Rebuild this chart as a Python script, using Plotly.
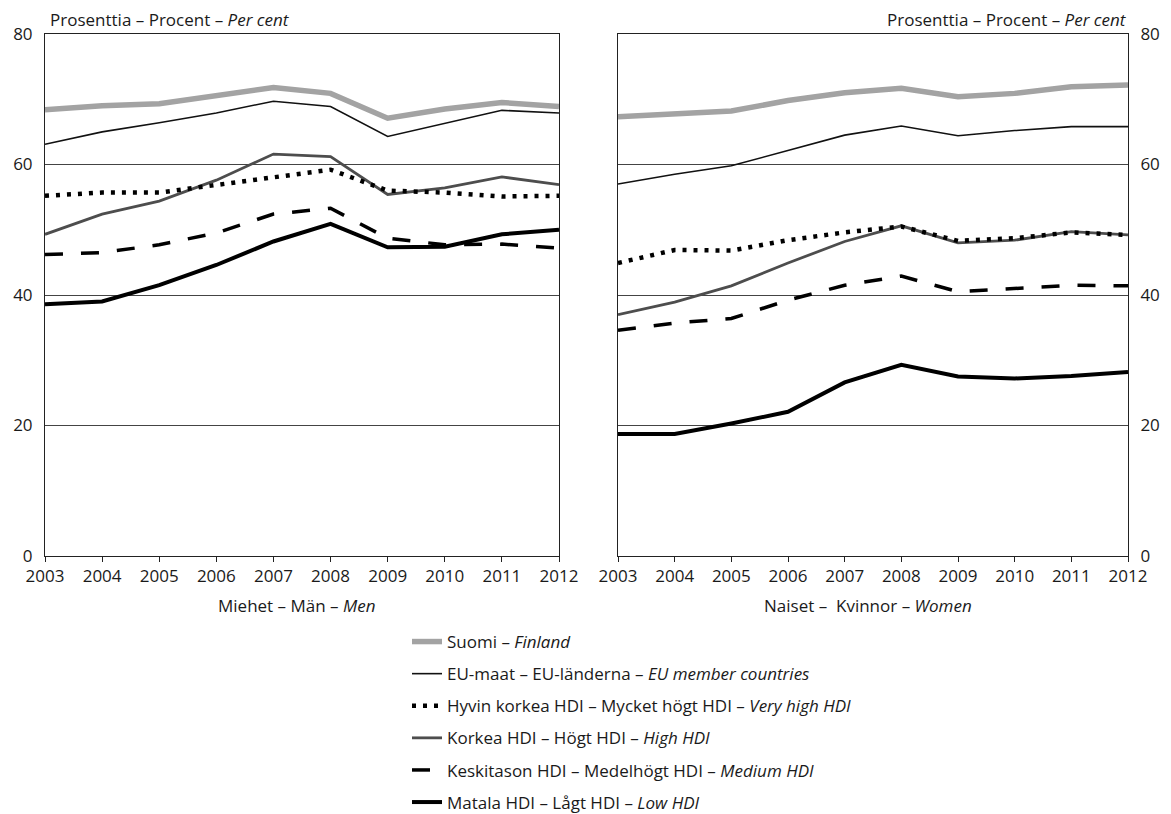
import plotly.graph_objects as go

years = [2003, 2004, 2005, 2006, 2007, 2008, 2009, 2010, 2011, 2012]

# Men (left panel)
men_finland = [68.4, 69.0, 69.3, 70.5, 71.8, 70.9, 67.1, 68.5, 69.5, 68.9]
men_eu = [63.1, 65.0, 66.4, 67.9, 69.7, 68.9, 64.3, 66.3, 68.3, 67.9]
men_very_high = [55.2, 55.7, 55.7, 56.9, 58.1, 59.2, 56.0, 55.7, 55.1, 55.2]
men_high = [49.3, 52.4, 54.4, 57.6, 61.6, 61.2, 55.4, 56.4, 58.1, 56.9]
men_medium = [46.2, 46.5, 47.7, 49.5, 52.4, 53.3, 48.7, 47.7, 47.8, 47.2]
men_low = [38.6, 39.0, 41.5, 44.6, 48.2, 50.9, 47.3, 47.4, 49.3, 50.0]

# Women (right panel)
women_finland = [67.3, 67.8, 68.2, 69.8, 71.0, 71.7, 70.4, 70.9, 71.9, 72.2]
women_eu = [57.0, 58.5, 59.8, 62.2, 64.5, 65.9, 64.4, 65.2, 65.8, 65.8]
women_very_high = [44.9, 46.9, 46.8, 48.4, 49.6, 50.5, 48.3, 48.7, 49.6, 49.2]
women_high = [37.0, 38.9, 41.4, 44.9, 48.2, 50.6, 48.0, 48.4, 49.7, 49.2]
women_medium = [34.6, 35.7, 36.4, 39.2, 41.5, 42.9, 40.5, 41.0, 41.5, 41.4]
women_low = [18.7, 18.7, 20.3, 22.1, 26.6, 29.3, 27.5, 27.2, 27.6, 28.2]

series_names = [
    "Suomi – <i>Finland</i>",
    "EU-maat – EU-länderna – <i>EU member countries</i>",
    "Hyvin korkea HDI – Mycket högt HDI – <i>Very high HDI</i>",
    "Korkea HDI – Högt HDI – <i>High HDI</i>",
    "Keskitason HDI – Medelhögt HDI – <i>Medium HDI</i>",
    "Matala HDI – Lågt HDI – <i>Low HDI</i>",
]
men_series = [men_finland, men_eu, men_very_high, men_high, men_medium, men_low]
women_series = [women_finland, women_eu, women_very_high, women_high, women_medium, women_low]

y_tick_vals = [0, 20, 40, 60, 80]
y_title = "Prosenttia – Procent – <i>Per cent</i>"
men_label = "Miehet – Män – <i>Men</i>"
women_label = "Naiset –  Kvinnor – <i>Women</i>"

styles = [
    dict(color="#a3a3a3", width=5.5, dash="solid"),
    dict(color="#111111", width=1.6, dash="solid"),
    dict(color="#000000", width=4.5, dash="4px,7px"),
    dict(color="#4d4d4d", width=2.8, dash="solid"),
    dict(color="#000000", width=3.5, dash="18px,18px"),
    dict(color="#000000", width=4.0, dash="solid"),
]

FONT = "Open Sans, Noto Sans, sans-serif"
FS = 17

fig = go.Figure()
order = [0, 1, 4, 3, 5, 2]
for i in order:
    fig.add_trace(go.Scatter(
        x=years, y=men_series[i], mode="lines", name=series_names[i],
        line=styles[i], xaxis="x", yaxis="y", legendgroup=f"g{i}",
        legendrank=i + 1, showlegend=True,
    ))
for i in order:
    fig.add_trace(go.Scatter(
        x=years, y=women_series[i], mode="lines", name=series_names[i],
        line=styles[i], xaxis="x2", yaxis="y2", legendgroup=f"g{i}",
        showlegend=False,
    ))

# the page adds an 8px body margin; work in page pixels and shift by it
OFF = 8
PAGE_W, PAGE_H = 1171, 814
W, H = PAGE_W - OFF, PAGE_H - OFF
ML, MR, MT, MB = 45 - OFF, PAGE_W - 1128, 34 - OFF, PAGE_H - 556
PW, PH = W - ML - MR, H - MT - MB


def px(xpage):
    return (xpage - OFF - ML) / PW


def py(ypage):
    return (H - MB - (ypage - OFF)) / PH


axis_common = dict(
    showline=True, linecolor="#222222", linewidth=1, mirror=True,
    tickfont=dict(family=FONT, size=FS, color="#1a1a1a"),
    zeroline=False, automargin=False,
)

fig.update_layout(
    width=W, height=H,
    margin=dict(l=ML, r=MR, t=MT, b=MB, autoexpand=False),
    paper_bgcolor="white", plot_bgcolor="white",
    font=dict(family=FONT, size=FS, color="#1a1a1a"),
    xaxis=dict(domain=[0, px(559)], range=[2003, 2012], tickvals=years,
               ticks="outside", ticklen=5, tickcolor="#222222",
               showgrid=False, anchor="y", **axis_common),
    yaxis=dict(domain=[0, 1], range=[0, 80], tickvals=y_tick_vals,
               showgrid=True, gridcolor="#444444", gridwidth=1,
               ticks="", ticklabelstandoff=8, anchor="x", **axis_common),
    xaxis2=dict(domain=[px(618), 1], range=[2003, 2012], tickvals=years,
                ticks="outside", ticklen=5, tickcolor="#222222",
                showgrid=False, anchor="y2", **axis_common),
    yaxis2=dict(domain=[0, 1], range=[0, 80], tickvals=y_tick_vals,
                showgrid=True, gridcolor="#444444", gridwidth=1,
                ticks="", side="right", ticklabelstandoff=8, anchor="x2",
                **axis_common),
    legend=dict(
        x=px(407), y=py(624), xanchor="left", yanchor="top",
        font=dict(family=FONT, size=FS, color="#1a1a1a"),
        tracegroupgap=7, bgcolor="rgba(0,0,0,0)",
    ),
    showlegend=True,
    annotations=[
        dict(text=y_title, xref="paper", yref="paper", x=px(49), y=py(20),
             xanchor="left", yanchor="middle", showarrow=False, borderpad=0,
             font=dict(family=FONT, size=FS)),
        dict(text=y_title, xref="paper", yref="paper", x=px(1128), y=py(20),
             xanchor="right", yanchor="middle", showarrow=False, borderpad=0,
             font=dict(family=FONT, size=FS)),
        dict(text=men_label, xref="paper", yref="paper", x=px(297), y=py(605),
             xanchor="center", yanchor="middle", showarrow=False,
             font=dict(family=FONT, size=FS)),
        dict(text=women_label, xref="paper", yref="paper", x=px(868), y=py(605),
             xanchor="center", yanchor="middle", showarrow=False,
             font=dict(family=FONT, size=FS)),
    ],
)

fig.write_html("out.html")
